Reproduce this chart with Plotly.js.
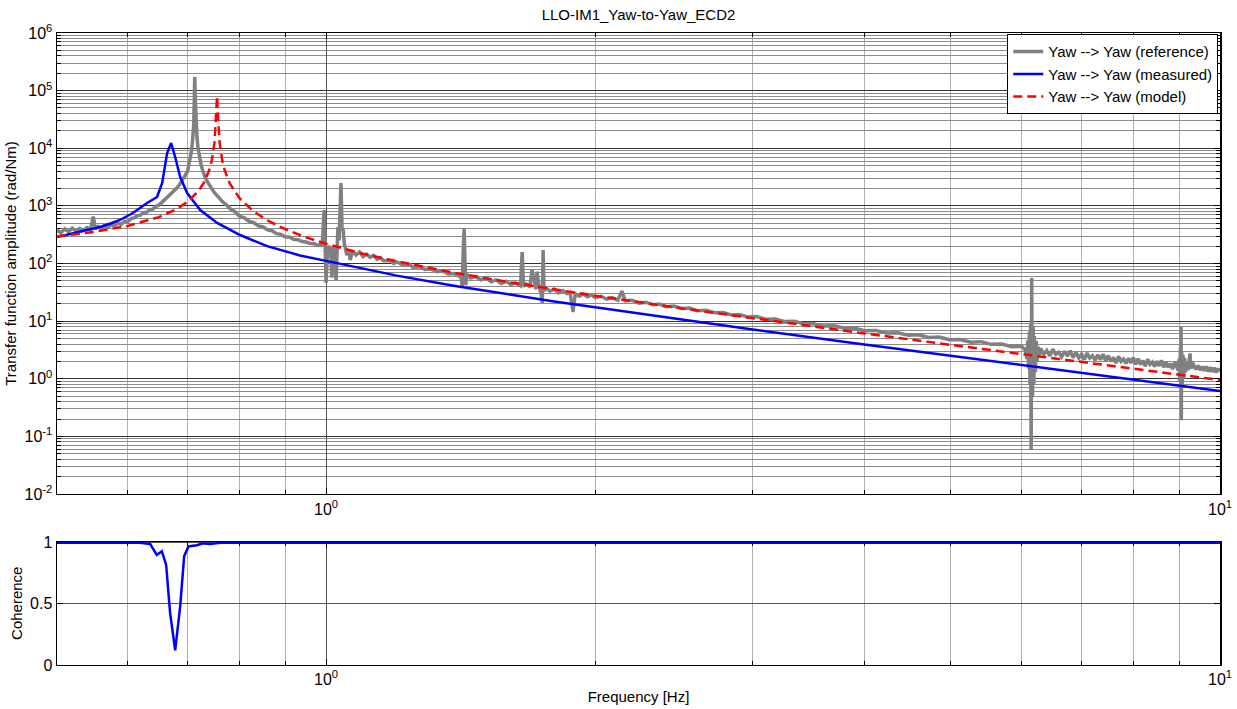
<!DOCTYPE html>
<html><head><meta charset="utf-8">
<script src="https://cdn.plot.ly/plotly-3.0.1.min.js"></script>
<style>html,body{margin:0;padding:0;background:#fff;}#chart{width:1237px;height:709px;}</style>
</head><body><div id="chart"></div>
<script>
// ---- reference (gray) ----
const freqRef = [
0.500,0.505,0.510,0.515,0.520,0.525,0.530,0.535,0.540,0.545,
0.549,0.552,0.556,0.560,0.565,0.570,0.575,0.580,0.585,0.590,
0.595,0.600,0.605,0.610,0.615,0.620,0.625,0.630,0.635,0.640,
0.645,0.650,0.655,0.660,0.665,0.670,0.675,0.680,0.685,0.690,
0.695,0.700,0.704,0.707,0.709,0.711,0.712,0.713,0.714,0.715,
0.717,0.719,0.722,0.725,0.729,0.733,0.738,0.744,0.750,0.757,
0.765,0.773,0.780,0.790,0.800,0.810,0.820,0.830,0.840,0.850,
0.860,0.870,0.880,0.890,0.900,0.910,0.920,0.930,0.940,0.950,
0.960,0.970,0.980,0.985,0.990,0.995,0.997,1.000,1.004,1.008,
1.012,1.015,1.018,1.022,1.026,1.029,1.031,1.034,1.039,1.042,
1.045,1.048,1.052,1.055,1.060,1.064,1.070,1.080,1.090,1.100,
1.110,1.120,1.130,1.140,1.150,1.160,1.180,1.190,1.200,1.220,
1.240,1.250,1.270,1.290,1.310,1.330,1.350,1.370,1.390,1.410,
1.415,1.420,1.424,1.427,1.430,1.433,1.437,1.450,1.470,1.490,
1.510,1.530,1.550,1.570,1.590,1.610,1.630,1.650,1.657,1.663,
1.675,1.690,1.700,1.710,1.716,1.722,1.730,1.740,1.745,1.749,
1.753,1.760,1.780,1.800,1.820,1.840,1.860,1.875,1.889,1.900,
1.920,1.940,1.960,1.980,2.000,2.030,2.060,2.090,2.120,2.143,
2.160,2.200,2.240,2.280,2.320,2.360,2.400,2.450,2.500,2.550,
2.600,2.660,2.720,2.780,2.840,2.900,2.960,3.030,3.100,3.180,
3.260,3.340,3.420,3.500,3.600,3.700,3.800,3.900,4.000,4.120,
4.240,4.360,4.480,4.600,4.720,4.850,4.980,5.120,5.260,5.400,
5.550,5.700,5.850,6.000,6.060,6.080,6.095,6.110,6.120,6.130,
6.140,6.148,6.152,6.157,6.162,6.170,6.180,6.190,6.200,6.215,
6.230,6.245,6.260,6.280,6.300,6.350,6.400,6.450,6.500,6.550,
6.600,6.650,6.700,6.750,6.800,6.850,6.900,6.950,7.000,7.050,
7.100,7.150,7.200,7.250,7.300,7.350,7.400,7.450,7.500,7.550,
7.600,7.650,7.700,7.750,7.800,7.850,7.900,7.950,8.000,8.050,
8.100,8.150,8.200,8.250,8.300,8.350,8.400,8.450,8.500,8.550,
8.600,8.650,8.700,8.750,8.800,8.850,8.900,8.950,8.980,9.000,
9.015,9.030,9.040,9.046,9.052,9.060,9.075,9.090,9.110,9.130,
9.150,9.180,9.210,9.240,9.257,9.280,9.320,9.360,9.400,9.450,
9.500,9.550,9.600,9.650,9.700,9.750,9.800,9.850,9.900,9.950,
10.000];
const ampRef = [
381,340,400,355,410,365,405,375,420,390,
650,400,440,405,455,425,470,450,500,480,
540,530,600,620,680,690,760,780,850,880,
980,1030,1150,1280,1450,1580,1800,2000,2300,2700,
3300,4000,6000,9000,14000,25000,60000,172000,70000,30000,
16000,10000,6500,5000,3800,3000,2500,2000,1700,1450,
1200,1050,900,800,660,620,540,510,450,430,
385,370,330,320,290,285,262,258,240,236,
222,220,205,215,200,848,200,46,180,200,
170,57,190,160,50,200,430,250,2490,400,
380,220,160,140,170,115,165,140,158,132,
145,128,138,118,126,112,112,100,106,94,
96,86,88,79,80,72,74,66,67,60,
62,40,200,397,120,42,65,56,59,52,
56,48,52,45,49,43,46,41,158,40,
44,39,77,48,36,72,40,30,20.6,171,
33,38,33,36,31,34,30,31,14.4,30,
27,29.5,26.5,28.5,25.5,27,24,25.5,23,33.4,
22.5,23,20.5,21.3,19.2,19.8,17.8,18.2,16.6,16.8,
15.2,15.4,14.0,14.1,12.8,13.0,11.8,12.0,10.8,10.9,
9.8,9.9,9.0,9.1,8.2,8.3,7.5,7.6,6.8,6.9,
6.2,6.3,5.7,5.8,5.2,5.3,4.75,4.8,4.3,4.4,
3.95,4.0,3.6,3.65,3.1,2.2,4.6,1.5,6.5,0.8,
9,0.058,12,56,2,0.5,8,0.8,5.5,1.3,
4.5,2.0,3.6,2.6,3.36,2.66,3.10,2.48,3.25,2.64,
2.89,2.41,2.98,2.46,3.06,2.32,2.89,2.30,2.67,2.14,
2.80,2.29,2.51,2.09,2.60,2.14,2.67,2.03,2.52,2.00,
2.33,1.87,2.45,2.00,2.19,1.84,2.27,1.88,2.34,1.78,
2.22,1.76,2.06,1.65,2.17,1.78,1.94,1.63,2.01,1.67,
2.08,1.58,1.97,1.57,1.83,1.47,1.94,1.58,1.4,2.2,
0.9,3.5,0.6,7.9,0.19,3.0,0.8,2.6,1.0,2.3,
1.3,2.0,1.4,2.2,2.75,1.5,1.9,1.62,1.45,1.70,
1.42,1.62,1.38,1.63,1.33,1.58,1.32,1.55,1.28,1.50,
1.33];

// ---- measured (blue) ----
const freqMeas = [0.500,0.520,0.540,0.5588,0.575,0.588,0.608,0.6306,0.647,0.6556,
0.664,0.6709,0.6779,0.6867,0.6992,0.7231,0.7553,0.8012,0.859,0.935,
1.0,1.1,1.2,1.4,1.6,1.8,2.0,2.5,3.0,4.0,
5.0,6.0,7.0,8.0,9.0,9.2,10.0];
const ampMeas = [288,330,375,430,500,569,752,1122,1426,2494,
8272,12330,7047,3170,1673,848,505,312,200,138,
111,80.3,61.6,40.4,28.9,21.9,17.4,10.6,7.13,3.92,
2.485,1.716,1.256,0.960,0.765,0.728,0.613];

// ---- model (red dashed) ----
const freqModel = [0.50,0.55,0.60,0.65,0.68,0.70,0.72,0.73,0.74,0.745,
0.75,0.753,0.7552,0.757,0.76,0.765,0.77,0.78,0.80,0.83,
0.86,0.90,0.95,1.0,1.1,1.2,1.4,1.6,1.8,2.0,
2.5,3.0,4.0,5.0,6.0,7.0,8.0,9.0,10.0];
const ampModel = [295,353,449,639,876,1177,1821,2527,4163,6176,
12115,30000,80000,35000,12945,6342,4181,2480,1356,797,
558,394,284,220,147.7,108.7,68.0,47.5,35.4,27.55,
16.64,11.21,6.12,3.868,2.667,1.951,1.490,1.175,0.950];

// ---- coherence (blue) ----
const freqCoh = [0.50,0.60,0.619,0.6356,0.6465,0.655,0.6623,0.669,0.6779,0.6867,
0.6938,0.7015,0.7166,0.7284,0.7417,0.7609,1.0,1.99,2.0,2.01,10.0];
const coh = [1,1,1,0.99,0.90,0.93,0.82,0.43,0.12,0.48,
0.89,0.97,0.98,0.995,0.99,1,1,1,0.994,1,1];

// ---- tick labels ----
const yTickVals = [1e-2,1e-1,1e0,1e1,1e2,1e3,1e4,1e5,1e6];
const yTickText = ['10<sup>-2</sup>','10<sup>-1</sup>','10<sup>0</sup>','10<sup>1</sup>','10<sup>2</sup>','10<sup>3</sup>','10<sup>4</sup>','10<sup>5</sup>','10<sup>6</sup>'];
const xTickVals = [1,10];
const xTickText = ['10<sup>0</sup>','10<sup>1</sup>'];
const cohTickVals = [0,0.5,1];
const cohTickText = ['0','0.5','1'];
const seriesNames = ['Yaw --> Yaw (reference)','Yaw --> Yaw (measured)','Yaw --> Yaw (model)'];

const xMinor = [];
[0.1,1].forEach(d=>{for(let k=2;k<=9;k++){const v=k*d; if(v>0.5) xMinor.push(+v.toFixed(3));}});
const yMinor = [];
for(let e=-2;e<6;e++){for(let k=2;k<=9;k++){yMinor.push(k*Math.pow(10,e));}}

const FONT = 'Liberation Sans, Arial, Helvetica, sans-serif';

const traces = [
 {x:freqRef,y:ampRef,name:seriesNames[0],type:'scatter',mode:'lines',line:{color:'#808080',width:3.5},xaxis:'x',yaxis:'y'},
 {x:freqMeas,y:ampMeas,name:seriesNames[1],type:'scatter',mode:'lines',line:{color:'#0000ff',width:2.5},xaxis:'x',yaxis:'y'},
 {x:freqModel,y:ampModel,name:seriesNames[2],type:'scatter',mode:'lines',line:{color:'#ff0000',width:2.5,dash:'9px,5px'},xaxis:'x',yaxis:'y'},
 {x:freqCoh,y:coh,name:'coh',showlegend:false,type:'scatter',mode:'lines',line:{color:'#0000ff',width:2.5},xaxis:'x2',yaxis:'y2'}
];

const xBase = {
 type:'log', range:[Math.log10(0.5),1], tickmode:'array', tickvals:xTickVals, ticktext:xTickText,
 ticks:'inside', ticklen:6, tickcolor:'#000', tickwidth:1,
 showline:true, linecolor:'#000', linewidth:1.5, mirror:'ticks',
 showgrid:true, gridcolor:'#555', gridwidth:1, zeroline:false,
 minor:{tickmode:'array', tickvals:xMinor, ticks:'inside', ticklen:4, tickcolor:'#000', showgrid:true, gridcolor:'#b0b0b0', gridwidth:1},
 tickfont:{family:FONT,size:16,color:'#000'}, layer:'below traces'
};

const layout = {
 width:1237, height:709,
 margin:{l:57,r:17,t:33,b:44},
 paper_bgcolor:'#fff', plot_bgcolor:'#fff',
 font:{family:FONT,size:16,color:'#000'},
 title:{text:'LLO-IM1_Yaw-to-Yaw_ECD2', font:{family:FONT,size:15,color:'#000'}, x:0.5, xref:'paper', xanchor:'center', y:1-15/709, yref:'container', yanchor:'middle'},
 showlegend:true,
 legend:{x:0.9985, xanchor:'right', y:0.998, yanchor:'top', xref:'paper', yref:'paper', bgcolor:'#fff', bordercolor:'#000', borderwidth:1, font:{family:FONT,size:15,color:'#000'}, tracegroupgap:0, itemwidth:30},
 xaxis:Object.assign({}, xBase, {anchor:'y', domain:[0,1]}),
 yaxis:{type:'log', range:[-2,6], domain:[0.2706,1], anchor:'x', tickmode:'array', tickvals:yTickVals, ticktext:yTickText,
  ticks:'inside', ticklen:6, tickcolor:'#000', showline:true, linecolor:'#000', linewidth:1.5, mirror:'ticks',
  showgrid:true, gridcolor:'#333', gridwidth:1, zeroline:false,
  minor:{tickmode:'array', tickvals:yMinor, ticks:'inside', ticklen:4, tickcolor:'#000', showgrid:true, gridcolor:'#8c8c8c', gridwidth:1},
  tickfont:{family:FONT,size:16,color:'#000'}, layer:'below traces',
  title:{text:'Transfer function amplitude (rad/Nm)', font:{family:FONT,size:15,color:'#000'}, standoff:4}},
 xaxis2:Object.assign({}, xBase, {anchor:'y2', domain:[0,1], matches:'x', linewidth:1,
  title:{text:'Frequency [Hz]', font:{family:FONT,size:15,color:'#000'}, standoff:4}}),
 yaxis2:{type:'linear', range:[0,1.01], domain:[0,0.1954], anchor:'x2', tickmode:'array', tickvals:cohTickVals, ticktext:cohTickText,
  ticks:'inside', ticklen:6, tickcolor:'#000', showline:true, linecolor:'#000', linewidth:1.5, mirror:'ticks',
  showgrid:true, gridcolor:'#555', gridwidth:1, zeroline:false,
  tickfont:{family:FONT,size:16,color:'#000'}, layer:'below traces',
  title:{text:'Coherence', font:{family:FONT,size:15,color:'#000'}, standoff:4}}
};

Plotly.newPlot('chart', traces, layout, {displayModeBar:false, staticPlot:true});
</script></body></html>
